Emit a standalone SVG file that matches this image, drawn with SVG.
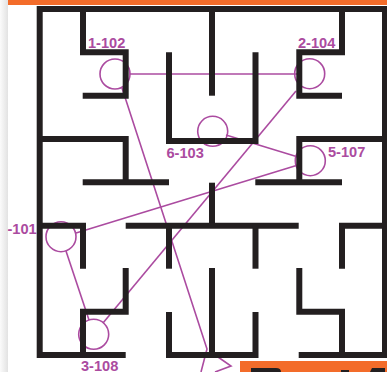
<svg xmlns="http://www.w3.org/2000/svg" width="387" height="372" viewBox="0 0 387 372">
<defs>
<linearGradient id="edge" x1="0" x2="1" y1="0" y2="0"><stop offset="0" stop-color="#fbfbfb"/><stop offset="1" stop-color="#e2e2e2"/></linearGradient>
</defs>
<style>
.w{fill:none;stroke:#231f20;stroke-width:6;stroke-linejoin:miter;stroke-linecap:butt}
.c{fill:none;stroke:#ab4ba0;stroke-width:1.6}
.l{fill:none;stroke:#ab4ba0;stroke-width:1.6;stroke-linejoin:miter}
.k{fill:#231f20}
text{font-family:"Liberation Sans",Arial,sans-serif;font-weight:700;font-size:14.6px;fill:#ab4ba0}
</style>
<rect width="387" height="372" fill="#fff"/>
<rect x="0" y="0" width="8" height="372" fill="url(#edge)"/>
<rect x="8" y="0" width="379" height="5" fill="#f36c2a"/>
<rect x="240" y="361" width="147" height="11" fill="#f36c2a"/>
<path class="k" d="M251 372V368H276Q281 368 281 372Z"/>
<rect class="k" x="341" y="370" width="8" height="2"/>
<path class="k" d="M370 372L372 368H385V372Z"/>
<g id="connectors">
<path class="l" d="M129 74H298"/>
<path class="l" d="M122 88L207 349L201 372"/>
<path class="l" d="M218 357L231 366L215 372"/>
<path class="l" d="M103 323L296 91"/>
<path class="l" d="M76 233L298 165"/>
<path class="l" d="M226 135L298 157"/>
<path class="l" d="M66 251L89 320"/>
</g>
<g id="n1-102"><circle class="c" cx="115" cy="74" r="15"/><text x="88" y="48">1-102</text></g>
<g id="n2-104"><circle class="c" cx="309.700" cy="73.700" r="15"/><text x="298" y="48">2-104</text></g>
<g id="n6-103"><circle class="c" cx="212.700" cy="131.300" r="15"/><text x="166.500" y="158">6-103</text></g>
<g id="n5-107"><circle class="c" cx="310.300" cy="160.700" r="15"/><text x="328" y="156.500">5-107</text></g>
<g id="n1-101"><circle class="c" cx="61" cy="236.700" r="15"/><text x="7.500" y="233.500">-101</text></g>
<g id="n3-108"><circle class="c" cx="93.700" cy="334.300" r="15"/><text x="81" y="370.500" font-size="14">3-108</text></g>
<g id="walls">
<path class="w" d="M388 9H39.700V355H125.700"/>
<path class="w" d="M385 6V358"/>
<path class="w" d="M83 9V52.300H125.700V95.700H82.700"/>
<path class="w" d="M39.700 139H125.700V182"/>
<path class="w" d="M82.700 182.300H169"/>
<path class="w" d="M169 52.300V141H255.500V52.300"/>
<path class="w" d="M212 9V95.700"/>
<path class="w" d="M342 9V52.300H299.300V95.700H342"/>
<path class="w" d="M388 139H299.300V182"/>
<path class="w" d="M255.300 182.300H342"/>
<path class="w" d="M212 182.700V225"/>
<path class="w" d="M125.700 225.700H298.700"/>
<path class="w" d="M169 225V268.700"/>
<path class="w" d="M255.500 225V268.700"/>
<path class="w" d="M39.700 225.700H83V268.700"/>
<path class="w" d="M125.700 268V311.700H83V355"/>
<path class="w" d="M169 312V355H255.500V312"/>
<path class="w" d="M212 268V355"/>
<path class="w" d="M299.300 268V311.700H342V355"/>
<path class="w" d="M298.700 355H388"/>
<path class="w" d="M342 268.700V225.700H388"/>
</g>
</svg>
